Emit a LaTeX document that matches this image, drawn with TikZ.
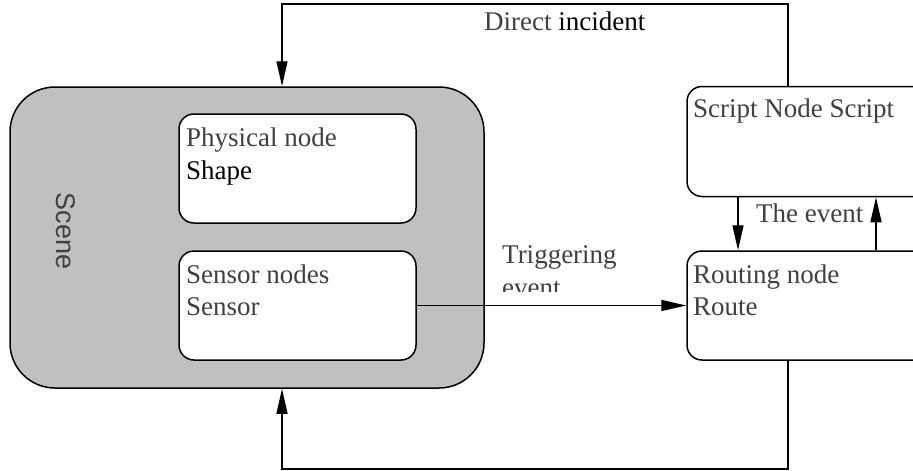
\documentclass[tikz,border=0pt]{standalone}
\usepackage{fontspec}
\setmainfont{Liberation Serif}
\setsansfont{Liberation Sans}
\usetikzlibrary{arrows.meta}
\definecolor{scenegray}{HTML}{C0C0C0}
\definecolor{txtgray}{HTML}{404040}
\begin{document}
\begin{tikzpicture}[x=1pt,y=-1pt,
  box/.style={draw=black, line width=1.5pt, fill=white, rounded corners=15pt, inner sep=0pt},
  lbl/.style={anchor=base west, inner sep=0pt, text=txtgray, font=\fontsize{27}{32}\selectfont},
  arr/.style={line width=1.4pt, -{Triangle[length=25pt,width=11pt]}},
  ln/.style={line width=1.4pt}]
\useasboundingbox (0,0) rectangle (913,471);
\clip (0,0) rectangle (913,471);
% scene
\node[draw=black, line width=1.5pt, fill=scenegray, rounded corners=45pt, inner sep=0pt,
      minimum width=474pt, minimum height=301pt] (scene) at (247,237.5) {};
\node[rotate=-90, inner sep=0pt, text=txtgray, font=\sffamily\fontsize{27}{32}\selectfont] (scenelbl) at (66,231) {Scene};
% inner boxes
\node[box, minimum width=237pt, minimum height=109pt] (phys) at (297.5,168.5) {};
\node[box, minimum width=237pt, minimum height=109pt] (sens) at (297.5,305.5) {};
\node[box, minimum width=250pt, minimum height=110pt] (script) at (812,141.5) {};
\node[box, minimum width=250pt, minimum height=109pt] (route) at (812,305.5) {};
% texts
\node[lbl] (physt1) at (186,146) {Physical node};
\node[lbl, text=black] (physt2) at (186,179) {Shape};
\node[lbl] (senst1) at (186,283) {Sensor nodes};
\node[lbl] (senst2) at (186,315) {Sensor};
\node[lbl] (scriptt) at (693,117) {Script Node Script};
\node[lbl] (routet1) at (693,283) {Routing node};
\node[lbl] (routet2) at (693,315) {Route};
\node[lbl] (direct) at (484,30) {Direct \textcolor{black}{incident}};
\node[lbl] (theevent) at (756,222) {The event};
\node[lbl] (trig) at (502,263) {Triggering};
\begin{scope}
\clip (490,270) rectangle (620,291);
\node[lbl] (trigev) at (502,296) {event};
\end{scope}
% connectors
\coordinate (t1) at (788,4);
\coordinate (t2) at (282,4);
\coordinate (b1) at (788,469);
\coordinate (b2) at (282,469);
\coordinate (dn) at (738,0);
\coordinate (up) at (876,0);
\draw[arr] (script.north -| t1) -- (t1) -- (t2) -- (t2 |- scene.north);
\draw[arr] (route.south -| b1) -- (b1) -- (b2) -- (b2 |- scene.south);
\draw[arr] (sens.east) -- (route.west);
\draw[arr] (script.south -| dn) -- (route.north -| dn);
\draw[arr] (route.north -| up) -- (script.south -| up);
\end{tikzpicture}
\end{document}
